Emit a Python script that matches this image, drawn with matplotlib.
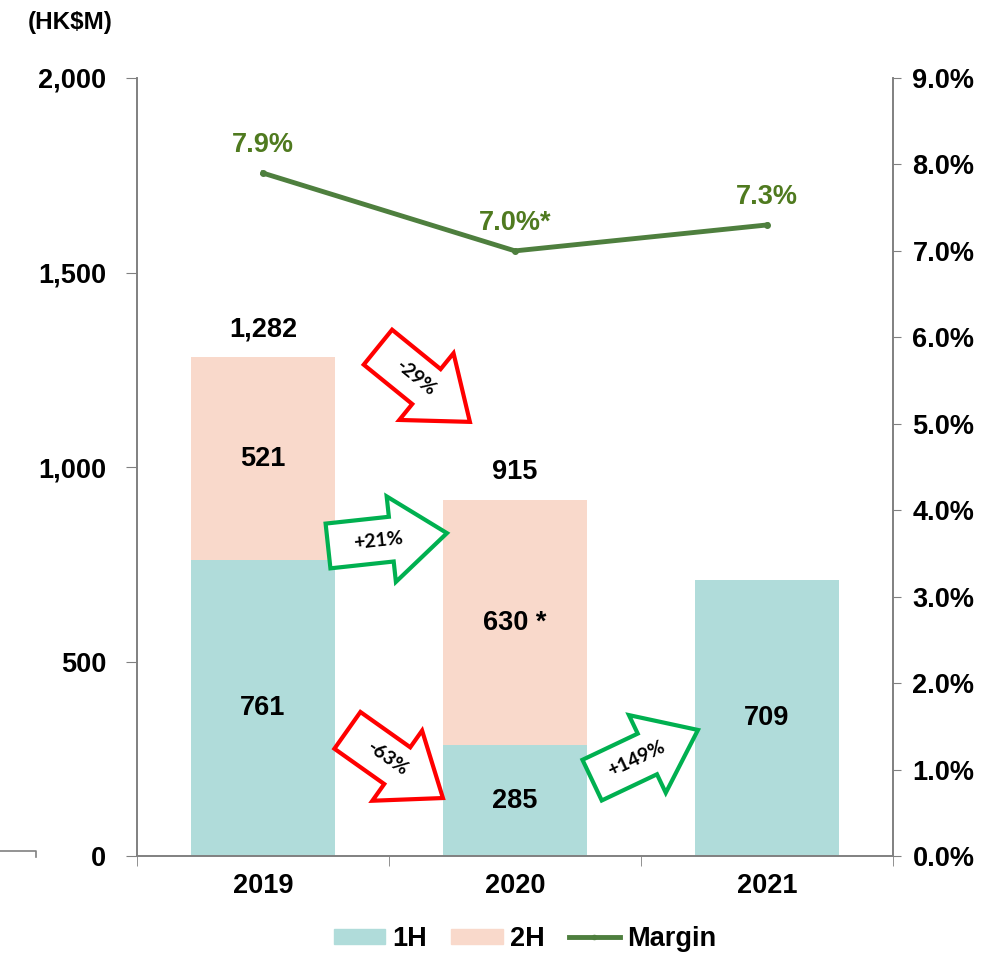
import numpy as np
import matplotlib as mpl
import matplotlib.pyplot as plt
from matplotlib.patches import Polygon, Patch
from matplotlib.lines import Line2D
from matplotlib.transforms import IdentityTransform

mpl.use('Agg')
plt.rcParams['font.family'] = ['Liberation Sans', 'DejaVu Sans']

years = ['2019', '2020', '2021']
first_half = [761, 285, 709]
second_half = [521, 630, 0]
second_labels = ['521', '630 *', '']
totals = [1282, 915, None]
margin = [7.9, 7.0, 7.3]
margin_labels = ['7.9%', '7.0%*', '7.3%']

# growth arrows: (tail x, tail y, tip x, tip y) in data units, label, colour
arrows = [
    ((0.456, 1308), (0.821, 1116), '-29%', '#FF0000'),
    ((0.258, 797), (0.730, 830), '+21%', '#00B050'),
    ((0.335, 323), (0.714, 149), '-63%', '#FF0000'),
    ((1.306, 195), (1.726, 324), '+149%', '#00B050'),
]

c1 = '#B0DCDA'
c2 = '#F9D9CB'
cline = '#4E7F3E'
clabel = '#4F7A1F'
grey = '#808080'

W, H = 1001, 956
fig = plt.figure(figsize=(W / 100, H / 100), dpi=100)
ax = fig.add_axes([137 / W, 1 - 856 / H, 756 / W, 778 / H])
ax2 = ax.twinx()

x = np.arange(len(years))
bw = 144 / 252
ax.bar(x, first_half, bw, color=c1, zorder=2)
ax.bar(x, second_half, bw, bottom=first_half, color=c2, zorder=2)

fs = 19.5
for i in range(len(years)):
    ax.text(x[i], first_half[i] / 2, f'{first_half[i]:,}', ha='center', va='center',
            fontsize=fs, fontweight='bold', zorder=5)
    if second_half[i]:
        ax.text(x[i], first_half[i] + second_half[i] / 2, second_labels[i], ha='center',
                va='center', fontsize=fs, fontweight='bold', zorder=5)
    if totals[i] is not None:
        ax.annotate(f'{totals[i]:,}', (x[i], totals[i]), xytext=(0, 15),
                    textcoords='offset points', ha='center', va='baseline',
                    fontsize=fs, fontweight='bold')

ax.set_xlim(-0.5, 2.5)
ax.set_ylim(0, 2000)
ax.set_yticks([0, 500, 1000, 1500, 2000])
ax.yaxis.set_major_formatter(mpl.ticker.FuncFormatter(lambda v, p: f'{v:,.0f}'))
ax.set_xticks(x)
ax.set_xticklabels(years)
ax.set_xticks([-0.5, 0.5, 1.5, 2.5], minor=True)
ax.tick_params(axis='x', which='major', length=0, pad=12, labelsize=19.5)
ax.tick_params(axis='x', which='minor', length=7, color=grey, direction='out')
ax.tick_params(axis='y', length=8, color=grey, labelsize=19.5, pad=14)
for lab in ax.get_xticklabels() + ax.get_yticklabels():
    lab.set_fontweight('bold')

ax2.plot(x, margin, color=cline, lw=3.5, marker='o', markersize=4, zorder=4)
ax2.set_ylim(0, 9)
ax2.set_yticks(np.arange(0, 9.5, 1.0))
ax2.yaxis.set_major_formatter(mpl.ticker.FuncFormatter(lambda v, p: f'{v:.1f}%'))
ax2.tick_params(axis='y', length=6, color=grey, labelsize=19.5, pad=8)
for lab in ax2.get_yticklabels():
    lab.set_fontweight('bold')
for i in range(len(years)):
    ax2.annotate(margin_labels[i], (x[i], margin[i]), xytext=(0, 15),
                 textcoords='offset points', ha='center', va='baseline',
                 fontsize=fs, fontweight='bold', color=clabel)

for a in (ax, ax2):
    a.spines['top'].set_visible(False)
    for s in ('left', 'right', 'bottom'):
        a.spines[s].set_color(grey)
        a.spines[s].set_linewidth(1.2)

fig.text(70 / W, 1 - 22 / H, '(HK$M)', ha='center', va='center', fontsize=17.5, fontweight='bold')

# stray line at lower left
fig.add_artist(Line2D([0, 36 / W, 36 / W], [1 - 851 / H, 1 - 851 / H, 1 - 857 / H],
                      color=grey, lw=1.2))

# block arrows, drawn in display pixels
fig.canvas.draw()
sw, hw, hl = 45, 86, 56
for tail, tip, label, col in arrows:
    p0 = ax.transData.transform(tail)
    p1 = ax.transData.transform(tip)
    d = p1 - p0
    L = np.hypot(*d)
    u = d / L
    n = np.array([-u[1], u[0]])
    pts_local = [(0, sw / 2), (L - hl, sw / 2), (L - hl, hw / 2), (L, 0),
                 (L - hl, -hw / 2), (L - hl, -sw / 2), (0, -sw / 2)]
    pts = [p0 + a * u + b * n for a, b in pts_local]
    fig.add_artist(Polygon(pts, closed=True, facecolor='white', edgecolor=col,
                           lw=3, joinstyle='miter', transform=IdentityTransform(), zorder=6))
    c = p0 + 0.42 * L * u
    ang = np.degrees(np.arctan2(u[1], u[0]))
    fig.text(c[0] / W, c[1] / H, label, ha='center', va='center', rotation=ang,
             rotation_mode='anchor', fontsize=14, fontweight='bold', family='Lato', zorder=7)

handles = [Patch(color=c1, label='1H'), Patch(color=c2, label='2H'),
           Line2D([], [], color=cline, lw=3.5, marker='o', markersize=3, label='Margin')]
fig.legend(handles=handles, loc='center', bbox_to_anchor=(525 / W, 1 - 939 / H), ncol=3,
           frameon=False, handlelength=1.9, handleheight=0.5, columnspacing=0.9,
           handletextpad=0.25, prop={'size': 19.5, 'weight': 'bold'})

fig.savefig('out.png', dpi=100)
